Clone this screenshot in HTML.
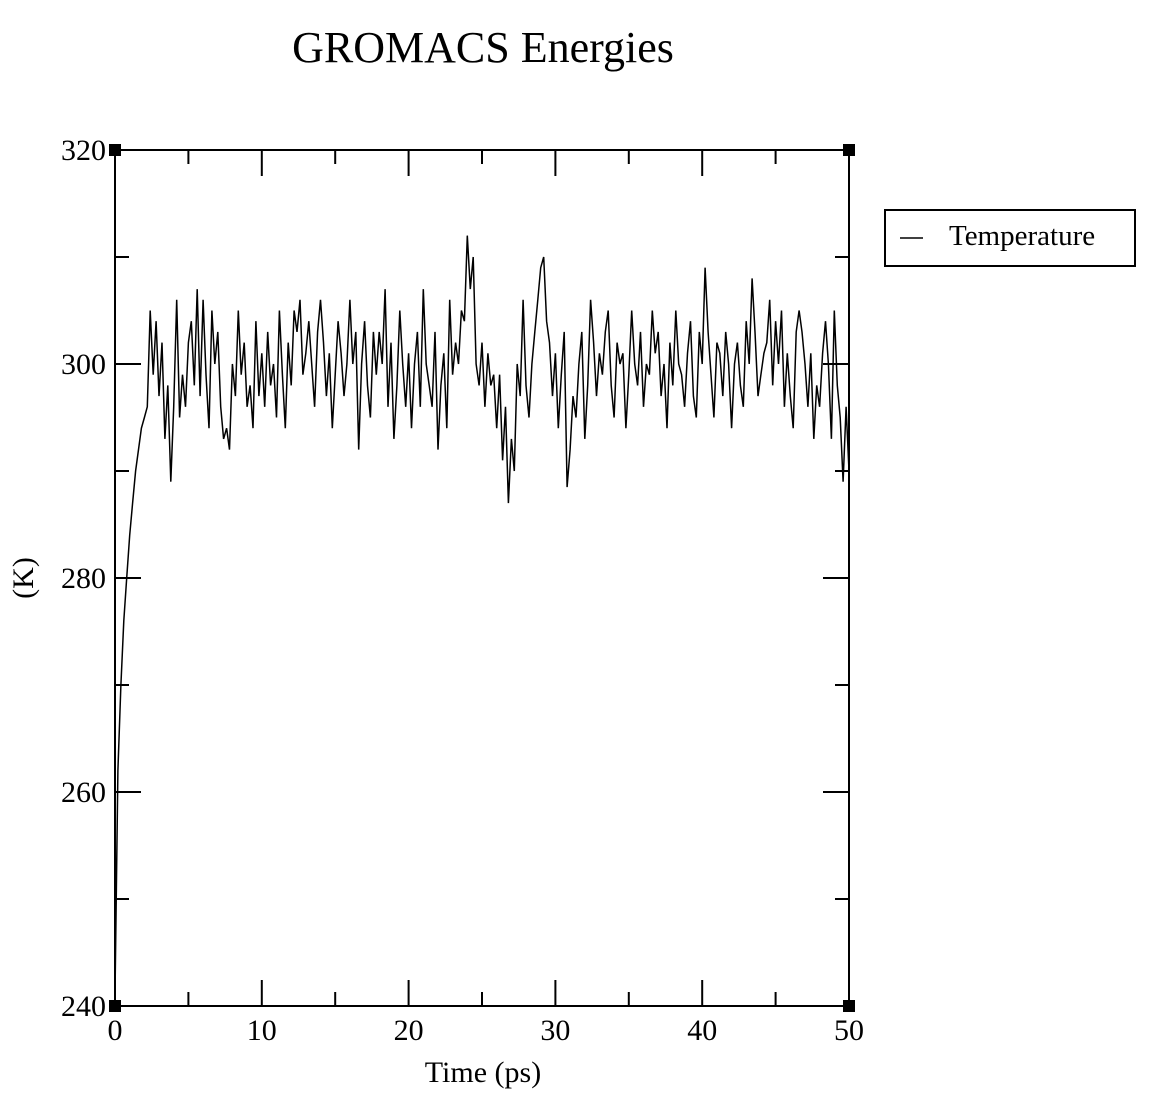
<!DOCTYPE html>
<html><head><meta charset="utf-8"><style>
html,body{margin:0;padding:0;background:#fff;}
svg{display:block;font-family:"Liberation Serif",serif;}
</style></head><body>
<svg id="chart" width="1153" height="1111" viewBox="0 0 1153 1111" xmlns="http://www.w3.org/2000/svg">
<text x="483" y="62" font-size="44" text-anchor="middle">GROMACS Energies</text>
<g id="axes"></g>
<g id="series"></g>
<text x="483" y="1082" font-size="30" text-anchor="middle">Time (ps)</text>
<text transform="translate(33,578) rotate(-90)" font-size="30" text-anchor="middle">(K)</text>
<g>
<rect x="885" y="210" width="250" height="56" fill="#fff" stroke="#000" stroke-width="2"/>
<line x1="900" y1="238" x2="923" y2="238" stroke="#000" stroke-width="1.5"/>
<text x="949" y="245" font-size="29">Temperature</text>
</g>
</svg>
<script>
const xTicks=[0,10,20,30,40,50];
const yTicks=[240,260,280,300,320];
const timeStep=0.2;
const temperature=[
241,262,270,276,280,284,287,290,292,294,
295,296,305,299,304,297,302,293,298,289,
296,306,295,299,296,302,304,298,307,297,
306,299,294,305,300,303,296,293,294,292,
300,297,305,299,302,296,298,294,304,297,
301,296,303,298,300,295,305,299,294,302,
298,305,303,306,299,301,304,300,296,303,
306,302,297,301,294,299,304,301,297,300,
306,300,303,292,300,304,298,295,303,299,
303,300,307,296,302,293,298,305,300,296,
301,294,300,303,296,307,300,298,296,303,
292,298,301,294,306,299,302,300,305,304,
312,307,310,300,298,302,296,301,298,299,
294,299,291,296,287,293,290,300,297,306,
298,295,300,303,306,309,310,304,302,297,
301,294,299,303,288.5,292,297,295,300,303,
293,298,306,302,297,301,299,303,305,298,
295,302,300,301,294,299,305,300,298,303,
296,300,299,305,301,303,297,300,294,302,
298,305,300,299,296,301,304,297,295,303,
300,309,303,299,295,302,301,297,303,300,
294,300,302,298,296,304,300,308,303,297,
299,301,302,306,298,304,300,305,296,301,
297,294,303,305,303,300,296,301,293,298,
296,301,304,300,293,305,298,295,289,296,
290];
const X0=115,X1=849,Y0=1006,Y1=150;
const xMin=0,xMax=50,yMin=240,yMax=320;
const sx=v=>X0+(v-xMin)/(xMax-xMin)*(X1-X0);
const sy=v=>Y0-(v-yMin)/(yMax-yMin)*(Y0-Y1);
const NS="http://www.w3.org/2000/svg";
const axes=document.getElementById('axes');
function mk(tag,attrs,parent){const e=document.createElementNS(NS,tag);for(const k in attrs)e.setAttribute(k,attrs[k]);parent.appendChild(e);return e;}
const frame=mk('rect',{x:X0,y:Y1,width:X1-X0,height:Y0-Y1,fill:'none',stroke:'#000','stroke-width':2},axes);


// x ticks major + minor
for(let i=0;i<xTicks.length;i++){
  const v=xTicks[i],x=sx(v);
  const t=mk('path',{d:`M${x},${Y0}v-26M${x},${Y1}v26`,stroke:'#000','stroke-width':2},axes);
  
  
  const l=mk('text',{x:x,y:Y0+34,'font-size':30,'text-anchor':'middle'},axes);
  l.textContent=v;
  
  
  if(i<xTicks.length-1){
    const xm=sx((v+xTicks[i+1])/2);
    const m=mk('path',{d:`M${xm},${Y0}v-14M${xm},${Y1}v14`,stroke:'#000','stroke-width':2},axes);
    
    
  }
}
for(let i=0;i<yTicks.length;i++){
  const v=yTicks[i],y=sy(v);
  const t=mk('path',{d:`M${X0},${y}h26M${X1},${y}h-26`,stroke:'#000','stroke-width':2},axes);
  
  
  const l=mk('text',{x:X0-9,y:y+10,'font-size':30,'text-anchor':'end'},axes);
  l.textContent=v;
  
  
  if(i<yTicks.length-1){
    const ym=sy((v+yTicks[i+1])/2);
    const m=mk('path',{d:`M${X0},${ym}h14M${X1},${ym}h-14`,stroke:'#000','stroke-width':2},axes);
    
    
  }
}
[[X0,Y0],[X1,Y0],[X0,Y1],[X1,Y1]].forEach(p=>{
  const c=mk('rect',{x:p[0]-6,y:p[1]-6,width:12,height:12,fill:'#000'},axes);
  
  
});
const pts=temperature.map((v,i)=>sx(i*timeStep).toFixed(1)+','+sy(v).toFixed(1)).join(' ');
const line=mk('polyline',{points:pts,fill:'none',stroke:'#000','stroke-width':1.5,'stroke-linejoin':'miter'},document.getElementById('series'));


</script>
</body></html>
